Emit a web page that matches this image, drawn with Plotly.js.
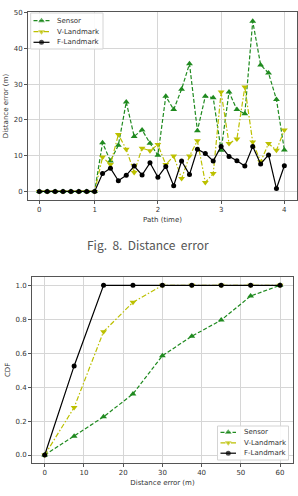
<!DOCTYPE html>
<html>
<head>
<meta charset="utf-8">
<script src="https://cdn.plot.ly/plotly-3.0.1.min.js"></script>
<style>html,body{margin:0;padding:0;background:#fff;}#chart{width:298px;height:496px;}</style>
</head>
<body>
<div id="chart"></div>
<script>
// ---- Fig. 8: distance error over path (sample index, ticks labelled by time) ----
const sampleIdx = [0,1,2,3,4,5,6,7,8,9,10,11,12,13,14,15,16,17,18,19,20,21,22,23,24,25,26,27,28,29,30,31];
const pathTickPos = [0,7,15,23,31];
const pathTickLabels = ['0','1','2','3','4'];
const sensorErr = [0,0,0,0,0,0,0,0,13.6,8.5,12.9,25.0,15.4,17.2,13.5,10.1,26.6,22.9,28.6,35.7,17.0,26.6,26.2,11.5,27.8,22.9,21.7,47.6,35.4,33.1,25.7,11.6];
const vLandErr  = [0,0,0,0,0,0,0,0,9.6,7.5,15.9,11.8,5.3,12.1,11.4,13.1,7.5,9.9,3.6,9.9,14.2,2.5,5.0,27.8,13.4,14.7,29.2,13.8,8.3,13.4,11.5,17.2];
const fLandErr  = [0,0,0,0,0,0,0,0,5.0,6.5,3.0,4.5,7.1,4.6,8.0,4.0,7.0,1.6,8.5,4.7,11.8,10.6,8.5,12.6,9.8,8.6,7.1,12.6,7.7,10.2,0.8,7.2];

// ---- CDF of distance error ----
const cdfErr    = [0,7.5,15,22.5,30,37.5,45,52.5,60];
const cdfSensor = [0,0.11,0.225,0.36,0.585,0.70,0.795,0.937,1.0];
const cdfVLand  = [0,0.28,0.727,0.90,1.0,1.0,1.0,1.0,1.0];
const cdfFLand  = [0,0.525,1.0,1.0,1.0,1.0,1.0,1.0,1.0];

const seriesNames = ['Sensor','V-Landmark','F-Landmark'];

const W = 298, H = 496;
const px = v => v / W;          // pixel -> paper x
const py = v => 1 - v / H;      // pixel (from top) -> paper y

const C_S = '#1f8a1f', C_V = '#bcc000', C_F = '#000000';
const styles = [
  {color: C_S, dash: '4px,2px', symbol: 'triangle-up', size: 6},
  {color: C_V, dash: '5px,2px,1.5px,2px', symbol: 'triangle-down', size: 6},
  {color: C_F, dash: 'solid', symbol: 'circle', size: 5}
];

function tr(x, y, i, xa, ya) {
  return {
    x: x, y: y, xaxis: xa, yaxis: ya, type: 'scatter', mode: 'lines+markers',
    name: seriesNames[i], showlegend: false, hoverinfo: 'skip', cliponaxis: false,
    line: {color: styles[i].color, width: 1.2, dash: styles[i].dash},
    marker: {color: styles[i].color, symbol: styles[i].symbol, size: styles[i].size, line: {width: 0}}
  };
}

const traces = [
  tr(sampleIdx, sensorErr, 0, 'x', 'y'),
  tr(sampleIdx, vLandErr, 1, 'x', 'y'),
  tr(sampleIdx, fLandErr, 2, 'x', 'y'),
  tr(cdfErr, cdfSensor, 0, 'x2', 'y2'),
  tr(cdfErr, cdfVLand, 1, 'x2', 'y2'),
  tr(cdfErr, cdfFLand, 2, 'x2', 'y2')
];

// legend glyphs on an overlay axis measured in pixels
const legends = [
  {box: [30.7, 13, 103, 49], rows: [20.7, 31.7, 42.3], lx: [33.5, 49.5], tx: 55},
  {box: [217.5, 426, 288.5, 460], rows: [432.3, 442.8, 453.2], lx: [220.5, 236], tx: 241.5}
];
const shapes = [];
const annotations = [];
legends.forEach(L => {
  shapes.push({type: 'rect', xref: 'x3', yref: 'y3', x0: L.box[0], x1: L.box[2],
    y0: L.box[1], y1: L.box[3], fillcolor: 'rgba(255,255,255,0.9)', line: {color: '#d4d4d4', width: 1}, layer: 'below'});
  L.rows.forEach((ry, i) => {
    const xm = (L.lx[0] + L.lx[1]) / 2;
    traces.push({
      x: [L.lx[0], xm, L.lx[1]], y: [ry, ry, ry], xaxis: 'x3', yaxis: 'y3', type: 'scatter', mode: 'lines+markers',
      showlegend: false, hoverinfo: 'skip',
      line: {color: styles[i].color, width: 1.2, dash: styles[i].dash},
      marker: {color: styles[i].color, symbol: styles[i].symbol, size: [0, styles[i].size, 0], line: {width: 0}}
    });
    annotations.push({xref: 'paper', yref: 'paper', x: px(L.tx), y: py(ry), xanchor: 'left', yanchor: 'middle',
      showarrow: false, text: seriesNames[i], font: {size: 7, color: '#333', family: 'DejaVu Sans'}});
  });
});

annotations.push({xref: 'paper', yref: 'paper', x: px(148), y: py(245), xanchor: 'center', yanchor: 'middle',
  showarrow: false, text: 'Fig.  8.  Distance  error', font: {size: 12, color: '#555', family: 'Noto Sans CJK KR'}});

const axCommon = {
  showline: true, mirror: true, linecolor: '#555', linewidth: 1,
  showgrid: true, gridcolor: '#d6d6d6', gridwidth: 1, zeroline: false,
  ticks: 'outside', ticklen: 3, tickwidth: 1, tickcolor: '#555',
  tickfont: {size: 7, color: '#333', family: 'DejaVu Sans'},
  fixedrange: true
};

const layout = {
  width: W, height: H, margin: {l: 0, r: 0, t: 0, b: 0},
  paper_bgcolor: '#fff', plot_bgcolor: 'rgba(0,0,0,0)', showlegend: false,
  xaxis: Object.assign({}, axCommon, {domain: [px(28), px(297)], anchor: 'y', range: [-1.43, 32.6],
    tickvals: pathTickPos, ticktext: pathTickLabels,
    title: {text: 'Path (time)', font: {size: 7, color: '#333', family: 'DejaVu Sans'}, standoff: 3}}),
  yaxis: Object.assign({}, axCommon, {domain: [py(200), py(12)], anchor: 'x', range: [-2.4, 50.2],
    tickvals: [0,10,20,30,40,50],
    title: {text: 'Distance error (m)', font: {size: 7, color: '#333', family: 'DejaVu Sans'}, standoff: 4}}),
  xaxis2: Object.assign({}, axCommon, {domain: [px(32), px(293)], anchor: 'y2', range: [-3.24, 63.3],
    tickvals: [0,10,20,30,40,50,60],
    title: {text: 'Distance error (m)', font: {size: 7, color: '#333', family: 'DejaVu Sans'}, standoff: 3}}),
  yaxis2: Object.assign({}, axCommon, {domain: [py(463), py(276.7)], anchor: 'x2', range: [-0.047, 1.0507],
    tickvals: [0,0.2,0.4,0.6,0.8,1.0], ticktext: ['0.0','0.2','0.4','0.6','0.8','1.0'],
    title: {text: 'CDF', font: {size: 7, color: '#333', family: 'DejaVu Sans'}, standoff: 4}}),
  xaxis3: {domain: [0, 1], range: [0, W], visible: false, anchor: 'y3', fixedrange: true, showgrid: false, zeroline: false},
  yaxis3: {domain: [0, 1], range: [H, 0], visible: false, anchor: 'x3', fixedrange: true, showgrid: false, zeroline: false},
  shapes: shapes,
  annotations: annotations
};

Plotly.newPlot('chart', traces, layout, {staticPlot: true, displayModeBar: false});
</script>
</body>
</html>
